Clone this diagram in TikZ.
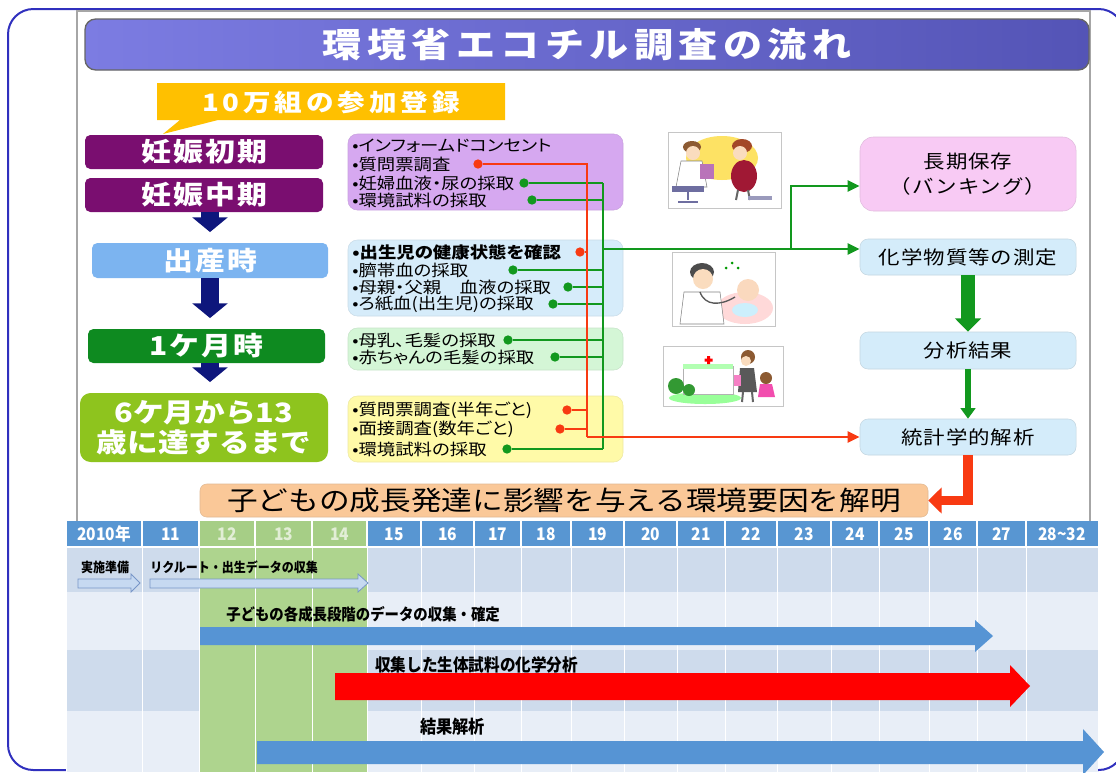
\documentclass[tikz,border=0pt]{standalone}
\usepackage{fontspec}
\setmainfont{Noto Sans CJK JP}[FakeStretch=1.15]
\newfontfamily\tableFont{Noto Sans CJK JP}[FakeStretch=0.9]
\usetikzlibrary{arrows.meta, fit}
\definecolor{frameBlue}{RGB}{48,48,190}
\definecolor{panelGray}{gray}{0.65}
\definecolor{titleLeft}{RGB}{124,124,226}
\definecolor{titleRight}{RGB}{84,84,182}
\definecolor{callGold}{RGB}{255,192,0}
\definecolor{stagePurple}{RGB}{122,14,112}
\definecolor{stageBlue}{RGB}{124,180,240}
\definecolor{stageGreen}{RGB}{14,138,32}
\definecolor{stageLime}{RGB}{142,196,30}
\definecolor{stepNavy}{RGB}{14,22,124}
\definecolor{listLavender}{RGB}{214,168,240}
\definecolor{listBlue}{RGB}{214,236,250}
\definecolor{listGreen}{RGB}{212,246,214}
\definecolor{listYellow}{RGB}{255,250,168}
\definecolor{lineRed}{RGB}{248,58,18}
\definecolor{lineGreen}{RGB}{18,152,30}
\definecolor{bankPink}{RGB}{248,202,244}
\definecolor{labBlue}{RGB}{212,236,250}
\definecolor{bannerPeach}{RGB}{250,200,152}
\definecolor{headBlue}{RGB}{88,150,210}
\definecolor{headGreen}{RGB}{166,206,134}
\definecolor{headPale}{RGB}{226,238,214}
\definecolor{rowDark}{RGB}{206,219,236}
\definecolor{rowLight}{RGB}{232,238,247}
\definecolor{colGreen}{RGB}{174,212,142}
\definecolor{barBlue}{RGB}{86,148,212}
\definecolor{barRed}{RGB}{255,0,0}
\definecolor{prepFill}{RGB}{198,217,241}
\definecolor{prepLine}{RGB}{120,150,200}
\definecolor{skinTone}{RGB}{250,220,190}
\definecolor{hairBrown}{RGB}{140,90,50}
\definecolor{dressRed}{RGB}{160,24,52}
\definecolor{chairBlue}{RGB}{110,110,160}

\begin{document}
\begin{tikzpicture}[x=0.75pt, y=-0.75pt,
    roundBox/.style={inner sep=0pt, rounded corners=4pt},
    stageBox/.style={roundBox, fill=#1},
    stageText/.style={text=white, inner sep=0pt,
      font=\bfseries\fontsize{19.5}{23}\selectfont\addfontfeatures{LetterSpace=8}},
    listBox/.style={roundBox, rounded corners=7pt, fill=#1, draw=#1!85!gray},
    listItem/.style={anchor=west, inner sep=0pt,
      font=\fontsize{12}{14}\selectfont\addfontfeatures{RawFeature=+palt}},
    flowBox/.style={roundBox, rounded corners=6pt, fill=#1, draw=#1!80!gray},
    flowText/.style={inner sep=0pt, align=center,
      font=\fontsize{14}{19}\selectfont\addfontfeatures{LetterSpace=5}},
    redDot/.style={circle, fill=lineRed, inner sep=0pt, minimum size=7pt},
    greenDot/.style={circle, fill=lineGreen, inner sep=0pt, minimum size=7pt},
    redLine/.style={lineRed, line width=2.2pt},
    greenLine/.style={lineGreen, line width=2.2pt},
    smallTip/.style={-{Triangle[length=9pt, width=8pt]}},
    stepArrow/.style={stepNavy, line width=14pt, shorten >=8pt,
      -{Triangle[length=11pt, width=26pt]}},
    headCell/.style={font=\tableFont\bfseries\fontsize{13}{15}\selectfont},
    barText/.style={anchor=west, inner sep=0pt,
      font=\tableFont\bfseries\fontsize{12}{14}\selectfont},
    picFrame/.style={draw=gray!45, fill=white, line width=0.6pt}
  ]
\fill[white, use as bounding box] (0,0) rectangle (1116,772);

% frame and panel
\draw[frameBlue, line width=1.5pt, rounded corners=19pt] (8,9) rectangle (1124,770);
\draw[panelGray, line width=0.8pt] (77,521) -- (77,11) -- (1090,11) -- (1090,521);

% heading
\node[roundBox, rounded corners=8pt, left color=titleLeft, right color=titleRight,
  draw=black!60, line width=1pt, fit={(85,19) (1089,70)}] (title) {};
\node[text=white, inner sep=0pt,
  font=\bfseries\fontsize{25.5}{30}\selectfont\addfontfeatures{LetterSpace=16}]
  (titleText) at (title) {環境省エコチル調査の流れ};

% registration callout
\fill[callGold] (157,83) -- (505,83) -- (505,120) -- (218,120) -- (163,134)
  -- (180,120) -- (157,120) -- cycle;
\node[text=white, inner sep=0pt,
  font=\bfseries\fontsize{18}{20}\selectfont\addfontfeatures{LetterSpace=16}]
  (entry) at (331,102) {10万組の参加登録};

% stages
\node[stageBox=stagePurple, fit={(85,135) (323,169)}] (s1) {};
\node[stageBox=stagePurple, fit={(85,178) (323,212)}] (s2) {};
\node[stageBox=stageBlue, fit={(92,243) (328,278)}] (s3) {};
\node[stageBox=stageGreen, fit={(88,329) (325,363)}] (s4) {};
\node[stageBox=stageLime, rounded corners=8pt, fit={(80,393) (328,462)}] (s5) {};
\node[stageText] (s1t) at (s1) {妊娠初期};
\node[stageText] (s2t) at (s2) {妊娠中期};
\node[stageText] (s3t) at (s3) {出産時};
\node[stageText] (s4t) at (s4) {1ケ月時};
\node[stageText, align=center, font=\bfseries\fontsize{20}{22.5}\selectfont]
  (s5t) at (s5) {6ケ月から13\\歳に達するまで};

\draw[stepArrow] (s2.south -| s3.north) -- (s3.north);
\draw[stepArrow] (s3.south) -- (s4.north -| s3.south);
\draw[stepArrow] (s4.south -| s3.south) -- (s5.north -| s3.south);

% what is done at each stage
\node[listBox=listLavender, fit={(348,134) (623,210)}] (boxA) {};
\node[listBox=listBlue, fit={(348,240) (623,316)}] (boxB) {};
\node[listBox=listGreen, fit={(348,328) (623,370)}] (boxC) {};
\node[listBox=listYellow, fit={(348,396) (623,462)}] (boxD) {};

\node[listItem] (a1) at (352,146) {•インフォームドコンセント};
\node[listItem] (a2) at (352,164) {•質問票調査};
\node[listItem] (a3) at (352,183) {•妊婦血液・尿の採取};
\node[listItem] (a4) at (352,200) {•環境試料の採取};
\node[listItem, font=\bfseries\fontsize{12}{14}\selectfont\addfontfeatures{RawFeature=+palt}]
  (b1) at (352,252) {•出生児の健康状態を確認};
\node[listItem] (b2) at (352,270) {•臍帯血の採取};
\node[listItem] (b3) at (352,287) {•母親・父親　血液の採取};
\node[listItem] (b4) at (352,304) {•ろ紙血(出生児)の採取};
\node[listItem] (c1) at (352,340) {•母乳、毛髪の採取};
\node[listItem] (c2) at (352,357) {•赤ちゃんの毛髪の採取};
\node[listItem] (d1) at (352,410) {•質問票調査(半年ごと)};
\node[listItem] (d2) at (352,429) {•面接調査(数年ごと)};
\node[listItem] (d3) at (352,449) {•環境試料の採取};

\node[redDot] (a2dot) at (478,164) {};
\node[greenDot] (a3dot) at (524,183) {};
\node[greenDot] (a4dot) at (532,200) {};
\node[redDot] (b1dot) at (580,252) {};
\node[greenDot] (b2dot) at (513,270) {};
\node[greenDot] (b3dot) at (568,287) {};
\node[greenDot] (b4dot) at (553,304) {};
\node[greenDot] (c1dot) at (508,340) {};
\node[greenDot] (c2dot) at (555,357) {};
\node[redDot] (d1dot) at (567,410) {};
\node[redDot] (d2dot) at (560,429) {};
\node[greenDot] (d3dot) at (507,449) {};

% sample handling
\node[flowBox=bankPink, rounded corners=10pt, fit={(860,137) (1076,211)}] (bank) {};
\node[flowBox=labBlue, fit={(860,239) (1076,275)}] (lab) {};
\node[flowBox=labBlue, fit={(860,332) (1076,369)}] (res) {};
\node[flowBox=labBlue, fit={(860,419) (1076,455)}] (stat) {};
\node[flowText] (bankText) at (bank) {長期保存\\（バンキング）};
\node[flowText] (labText) at (lab) {化学物質等の測定};
\node[flowText] (resText) at (res) {分析結果};
\node[flowText] (statText) at (stat) {統計学的解析};
\node[roundBox, rounded corners=5pt, fill=bannerPeach, draw=bannerPeach!80!gray,
  fit={(200,484) (928,517)}] (banner) {};
\node[inner sep=0pt, font=\fontsize{20}{24}\selectfont] (bannerText) at (banner)
  {子どもの成長発達に影響を与える環境要因を解明};

\coordinate (redTop) at (587,164);
\coordinate (redBend) at (587,437);
\coordinate (greenTop) at (603,183);
\coordinate (greenEnd) at (603,449);
\coordinate (greenJoin) at (603,249);
\coordinate (bankBend) at (791,249);
\coordinate (bankTurn) at (791,186);

\draw[greenLine] (greenTop) -- (greenEnd);
\foreach \d in {a3dot, a4dot, b2dot, b3dot, b4dot, c1dot, c2dot, d3dot}
  \draw[greenLine] (\d) -- (\d -| greenTop);
\draw[greenLine, smallTip] (greenJoin) -- (greenJoin -| lab.west);
\draw[greenLine, smallTip] (bankBend) -- (bankTurn) -- (bankTurn -| bank.west);

\draw[redLine] (a2dot) -- (redTop) -- (redBend);
\foreach \d in {b1dot, d1dot, d2dot}
  \draw[redLine] (\d) -- (\d -| redTop);
\draw[redLine, smallTip] (redBend) -- (redBend -| stat.west);

\draw[lineGreen, line width=10pt, -{Triangle[length=10pt, width=19pt]}] (lab.south) -- (res.north);
\draw[lineGreen, line width=5pt, -{Triangle[length=8pt, width=11pt]}] (res.south) -- (stat.north);
\draw[lineRed, line width=7pt, -{Triangle[length=10pt, width=19pt]}] (stat.south) |- (banner.east);

% consultation
\draw[picFrame] (668,132) rectangle (781,208);
\fill[yellow!70!orange!60] (722,158) ellipse [x radius=36, y radius=22];
\fill[hairBrown] (692,147) ellipse [x radius=9, y radius=6];
\fill[skinTone] (693,153) circle [radius=7];
\filldraw[fill=white, draw=gray] (681,161) -- (702,161) -- (707,187) -- (676,187) -- cycle;
\fill[violet!55] (700,164) rectangle (714,179);
\fill[chairBlue] (672,186) rectangle (704,192);
\draw[chairBlue, line width=1.5pt] (688,192) -- (688,200) (678,202) -- (698,202);
\fill[hairBrown!80!red] (742,146) ellipse [x radius=10, y radius=7];
\fill[skinTone] (740,153) circle [radius=7];
\fill[dressRed] (744,176) ellipse [x radius=13, y radius=16];
\draw[black!60, line width=1.5pt] (738,190) -- (736,200) (748,190) -- (750,200);
\fill[chairBlue!70] (748,196) rectangle (772,200);

% newborn check
\draw[picFrame] (672,252) rectangle (775,326);
\fill[pink!60] (745,308) ellipse [x radius=28, y radius=16];
\fill[black!70] (702,272) ellipse [x radius=12, y radius=9];
\fill[skinTone] (703,279) circle [radius=10];
\filldraw[fill=white, draw=gray] (684,292) -- (720,292) -- (724,324) -- (680,324) -- cycle;
\draw[gray!70!black, line width=1pt] (700,292) .. controls (705,306) and (720,306) .. (735,297);
\fill[skinTone!90!pink] (748,290) circle [radius=11];
\fill[cyan!20] (745,310) ellipse [x radius=13, y radius=7];
\fill[green!60!black] (726,268) circle [radius=1.5] (732,263) circle [radius=1.5] (738,268) circle [radius=1.5];

% one month visit
\draw[picFrame] (663,346) rectangle (783,406);
\fill[green!40] (705,398) ellipse [x radius=36, y radius=6];
\filldraw[fill=white, draw=gray!60] (683,366) rectangle (733,394);
\fill[green!30] (683,364) rectangle (733,369);
\fill[red] (707,356) rectangle (710,364) (704.5,358.5) rectangle (712.5,361.5);
\fill[green!50!black!80] (676,386) circle [radius=8] (689,390) circle [radius=6];
\fill[hairBrown] (748,357) circle [radius=7];
\fill[skinTone] (746,361) circle [radius=5];
\fill[black!65] (740,368) -- (754,368) -- (757,392) -- (738,392) -- cycle;
\draw[black!60, line width=1.5pt] (743,392) -- (742,402) (752,392) -- (753,402);
\fill[magenta!50] (734,375) rectangle (741,386);
\fill[hairBrown] (766,378) circle [radius=6];
\fill[magenta!70] (760,384) -- (772,384) -- (775,397) -- (758,397) -- cycle;

% timeline
\fill[rowDark] (66,548) rectangle (1098,592);
\fill[rowLight] (66,592) rectangle (1098,650);
\fill[rowDark] (66,650) rectangle (1098,711);
\fill[rowLight] (66,711) rectangle (1098,772);
\fill[colGreen] (199,548) rectangle (367,772);
\foreach \xa/\xb/\yr/\cl/\tc in {66/142/2010年/headBlue/white, 142/199/11/headBlue/white,
    199/255/12/headGreen/headPale, 255/312/13/headGreen/headPale, 312/367/14/headGreen/headPale,
    367/421/15/headBlue/white, 421/474/16/headBlue/white, 474/521/17/headBlue/white,
    521/571/18/headBlue/white, 571/624/19/headBlue/white, 624/677/20/headBlue/white,
    677/725/21/headBlue/white, 725/777/22/headBlue/white, 777/831/23/headBlue/white,
    831/879/24/headBlue/white, 879/929/25/headBlue/white, 929/977/26/headBlue/white,
    977/1026/27/headBlue/white, 1026/1098/28\textasciitilde32/headBlue/white}{
  \fill[\cl] (\xa,521) rectangle (\xb,546);
  \node[headCell, text=\tc] (yr\xa) at ({(\xa+\xb)/2},534) {\yr};
  \draw[white, line width=1.2pt] (\xa,521) -- (\xa,546);
  \draw[white, line width=0.6pt] (\xa,548) -- (\xa,772);
}

\filldraw[fill=prepFill, draw=prepLine, line width=0.6pt] (78,579) -- (131,579) -- (131,574)
  -- (140,583) -- (131,592) -- (131,588) -- (78,588) -- cycle;
\filldraw[fill=prepFill, draw=prepLine, line width=0.6pt] (150,579) -- (358,579) -- (358,574)
  -- (368,583) -- (358,592) -- (358,588) -- (150,588) -- cycle;
\fill[barBlue] (200,627) -- (975,627) -- (975,620) -- (993,636) -- (975,652) -- (975,645)
  -- (200,645) -- cycle;
\fill[barRed] (335,673) -- (1010,673) -- (1010,665) -- (1030,686) -- (1010,707) -- (1010,700)
  -- (335,700) -- cycle;
\fill[barBlue] (257,741) -- (1083,741) -- (1083,729) -- (1104,752) -- (1083,775) -- (1083,764)
  -- (257,764) -- cycle;

\node[barText, anchor=center, font=\tableFont\bfseries\fontsize{10}{12}\selectfont] (prep) at (105,567) {実施準備};
\node[barText, font=\tableFont\bfseries\fontsize{10}{12}\selectfont] (recruit) at (150,567) {リクルート・出生データの収集};
\node[barText] (growth) at (226,614) {子どもの各成長段階のデータの収集・確定};
\node[barText, font=\tableFont\bfseries\fontsize{13}{15}\selectfont] (chem) at (375,665) {収集した生体試料の化学分析};
\node[barText, font=\tableFont\bfseries\fontsize{13.5}{15}\selectfont] (result) at (420,727) {結果解析};
\end{tikzpicture}
\end{document}
